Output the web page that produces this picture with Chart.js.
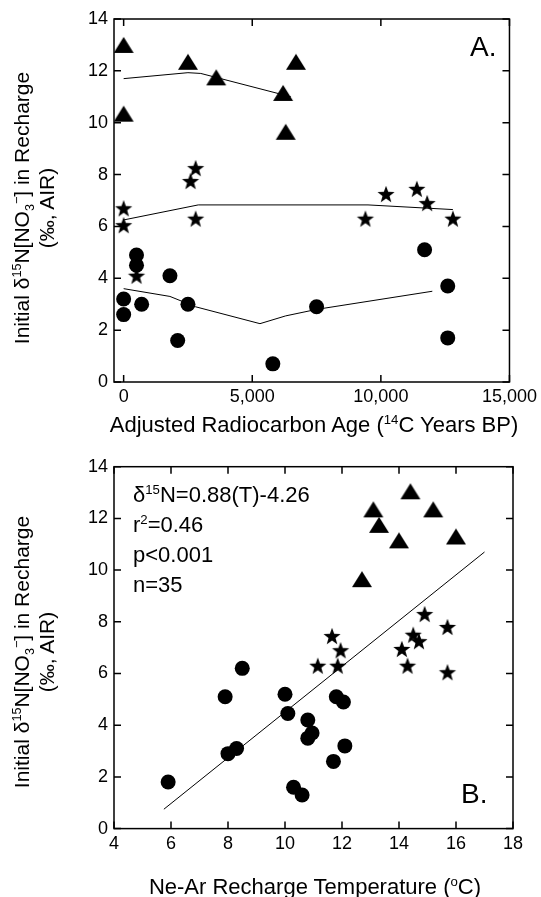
<!DOCTYPE html>
<html>
<head>
<meta charset="utf-8">
<script src="https://cdn.jsdelivr.net/npm/chart.js@4"></script>
<style>
  body { margin: 0; background: #fff; color: #000; font-family: "Liberation Sans", Arial, sans-serif; }
  #wrap { position: relative; width: 541px; height: 897px; overflow: hidden; }
  canvas { position: absolute; left: 0; }
  .lbl { position: absolute; white-space: nowrap; line-height: 1; }
  .xt { font-size: 22px; transform: translateX(-50%); }
  .yt { font-size: 21px; line-height: 25px; text-align: center; transform: translate(-50%, -50%) rotate(-90deg); }
  .note { font-size: 22px; line-height: 30px; }
  .panel { font-size: 28px; }
  sup, sub { font-size: 60%; line-height: 0; }
</style>
</head>
<body>
<div id="wrap">
  <canvas id="ageChart" width="541" height="440" style="top:0"></canvas>
  <canvas id="tempChart" width="541" height="457" style="top:440px"></canvas>

  <div class="lbl yt" style="left:34px; top:208px">Initial δ<sup>15</sup>N[NO<sub>3</sub><sup>−</sup>] in Recharge<br>(‰, AIR)</div>
  <div class="lbl xt" style="left:314px; top:414px">Adjusted Radiocarbon Age (<sup>14</sup>C Years BP)</div>
  <div class="lbl panel" style="left:470px; top:33px">A.</div>

  <div class="lbl yt" style="left:34px; top:652px">Initial δ<sup>15</sup>N[NO<sub>3</sub><sup>−</sup>] in Recharge<br>(‰, AIR)</div>
  <div class="lbl xt" style="left:315px; top:876px">Ne-Ar Recharge Temperature (<sup>o</sup>C)</div>
  <div class="lbl panel" style="left:461px; top:780px">B.</div>
  <div class="lbl note" style="left:133px; top:480px">δ<sup>15</sup>N=0.88(T)-4.26<br>r<sup>2</sup>=0.46<br>p&lt;0.001<br>n=35</div>
</div>

<script>
// panel A: radiocarbon age vs initial d15N
const ageTicks = [0, 5000, 10000, 15000];
const ageTriX = [0, 0, 2500, 3600, 6200, 6300, 6700];
const ageTriY = [13.0, 10.35, 12.35, 11.75, 11.15, 9.65, 12.35];
const ageStarX = [0, 0, 500, 2600, 2800, 2800, 9400, 10200, 11400, 11800, 12800];
const ageStarY = [6.7, 6.05, 4.1, 7.75, 8.25, 6.3, 6.3, 7.25, 7.45, 6.9, 6.3];
const ageCircX = [0, 0, 500, 500, 700, 1800, 2100, 2500, 5800, 7500, 11700, 12600, 12600];
const ageCircY = [3.2, 2.6, 4.9, 4.5, 3.0, 4.1, 1.6, 3.0, 0.7, 2.9, 5.1, 3.7, 1.7];
const triLineX = [0, 2500, 3000, 6500];
const triLineY = [11.7, 11.93, 11.9, 11.0];
const starLineX = [0, 2900, 9500, 12800];
const starLineY = [6.25, 6.83, 6.83, 6.65];
const circLineX = [0, 1800, 2800, 5300, 6300, 7500, 12000];
const circLineY = [3.6, 3.3, 2.9, 2.25, 2.55, 2.8, 3.5];

// panel B: recharge temperature vs initial d15N
const tempTicks = [4, 6, 8, 10, 12, 14, 16, 18];
const tempTriX = [14.4, 13.1, 15.2, 13.3, 14.0, 16.0, 12.7];
const tempTriY = [13.05, 12.35, 12.35, 11.75, 11.15, 11.3, 9.65];
const tempStarX = [14.9, 15.7, 14.5, 14.7, 14.1, 14.3, 15.7, 11.65, 11.95, 11.15, 11.85];
const tempStarY = [8.3, 7.8, 7.5, 7.25, 6.95, 6.3, 6.05, 7.45, 6.9, 6.3, 6.3];
const tempCircX = [5.9, 7.9, 8.5, 8.0, 8.3, 10.0, 10.1, 10.8, 10.95, 10.8, 10.3, 10.6, 11.8, 12.05, 12.1, 11.7];
const tempCircY = [1.8, 5.1, 6.2, 2.9, 3.1, 5.2, 4.45, 4.2, 3.7, 3.5, 1.6, 1.3, 5.1, 4.9, 3.2, 2.6];
const fitX = [5.75, 17.0];
const fitY = [0.75, 10.7];

const yTicks = [0, 2, 4, 6, 8, 10, 12, 14];

Chart.defaults.font.family = "'Liberation Sans', Arial, sans-serif";
Chart.defaults.color = '#000';

function pts(xs, ys) {
  return xs.map((x, i) => ({ x: x, y: ys[i] }));
}

// filled five point star
function starMarker(outer, inner) {
  const c = document.createElement('canvas');
  const s = Math.ceil(outer * 2) + 2;
  c.width = s; c.height = s;
  const g = c.getContext('2d');
  g.translate(s / 2, s / 2 + outer * 0.095);
  g.beginPath();
  for (let i = 0; i < 10; i++) {
    const r = i % 2 ? inner : outer;
    const a = -Math.PI / 2 + i * Math.PI / 5;
    g.lineTo(r * Math.cos(a), r * Math.sin(a));
  }
  g.closePath();
  g.fillStyle = '#000';
  g.fill();
  return c;
}

function triMarker(w, h) {
  const c = document.createElement('canvas');
  c.width = w + 2; c.height = h + 2;
  const g = c.getContext('2d');
  g.beginPath();
  g.moveTo(1 + w / 2, 1);
  g.lineTo(1 + w, 1 + h);
  g.lineTo(1, 1 + h);
  g.closePath();
  g.fillStyle = '#000';
  g.fill();
  return c;
}

const star = starMarker(9, 3.7);
const tri = triMarker(20, 16);

// box around the plot with inward ticks on all four sides
const frame = {
  id: 'frame',
  afterDraw(chart) {
    const { ctx, chartArea: a, scales } = chart;
    ctx.save();
    ctx.strokeStyle = '#000';
    ctx.lineWidth = 1.5;
    ctx.strokeRect(a.left, a.top, a.right - a.left, a.bottom - a.top);
    ctx.beginPath();
    scales.x.ticks.forEach(t => {
      const px = scales.x.getPixelForValue(t.value);
      ctx.moveTo(px, a.bottom); ctx.lineTo(px, a.bottom - 7);
      ctx.moveTo(px, a.top); ctx.lineTo(px, a.top + 7);
    });
    scales.y.ticks.forEach(t => {
      const py = scales.y.getPixelForValue(t.value);
      ctx.moveTo(a.left, py); ctx.lineTo(a.left + 7, py);
      ctx.moveTo(a.right, py); ctx.lineTo(a.right - 7, py);
    });
    ctx.stroke();
    ctx.restore();
  }
};

function markers(data, style, r) {
  return { data: data, pointStyle: style, pointRadius: r, pointBackgroundColor: '#000', pointBorderColor: '#000', pointBorderWidth: 0 };
}

function line(data) {
  return { data: data, showLine: true, pointRadius: 0, borderColor: '#000', borderWidth: 1, fill: false };
}

function makeChart(id, datasets, xOpts, padTop, xHeight) {
  return new Chart(document.getElementById(id), {
    type: 'scatter',
    data: { datasets: datasets },
    options: {
      responsive: false,
      animation: false,
      devicePixelRatio: 1,
      layout: { padding: { top: padTop, right: 28, left: 0, bottom: 0 } },
      plugins: { legend: { display: false }, tooltip: { enabled: false } },
      scales: {
        x: Object.assign({
          type: 'linear',
          grid: { display: false, drawTicks: false },
          border: { display: false },
          afterFit: s => { s.height = xHeight; }
        }, xOpts),
        y: {
          min: 0, max: 14,
          afterBuildTicks: s => { s.ticks = yTicks.map(v => ({ value: v })); },
          ticks: { font: { size: 18 }, padding: 6, color: '#000' },
          grid: { display: false, drawTicks: false },
          border: { display: false },
          afterFit: s => { s.width = 114; }
        }
      }
    },
    plugins: [frame]
  });
}

makeChart('ageChart', [
  line(pts(triLineX, triLineY)),
  line(pts(starLineX, starLineY)),
  line(pts(circLineX, circLineY)),
  markers(pts(ageCircX, ageCircY), 'circle', 7.5),
  markers(pts(ageStarX, ageStarY), star, 5),
  markers(pts(ageTriX, ageTriY), tri, 5)
], {
  min: -375, max: 15000,
  afterBuildTicks: s => { s.ticks = ageTicks.map(v => ({ value: v })); },
  ticks: { font: { size: 18 }, padding: 4, maxRotation: 0, autoSkip: false, color: '#000',
    callback: v => v.toLocaleString('en-US') }
}, 19, 58);

makeChart('tempChart', [
  line(pts(fitX, fitY)),
  markers(pts(tempCircX, tempCircY), 'circle', 7.5),
  markers(pts(tempStarX, tempStarY), star, 5),
  markers(pts(tempTriX, tempTriY), tri, 5)
], {
  min: 4, max: 18,
  afterBuildTicks: s => { s.ticks = tempTicks.map(v => ({ value: v })); },
  ticks: { font: { size: 18 }, padding: 5, maxRotation: 0, autoSkip: false, color: '#000' }
}, 26.7, 68.4);
</script>
</body>
</html>
